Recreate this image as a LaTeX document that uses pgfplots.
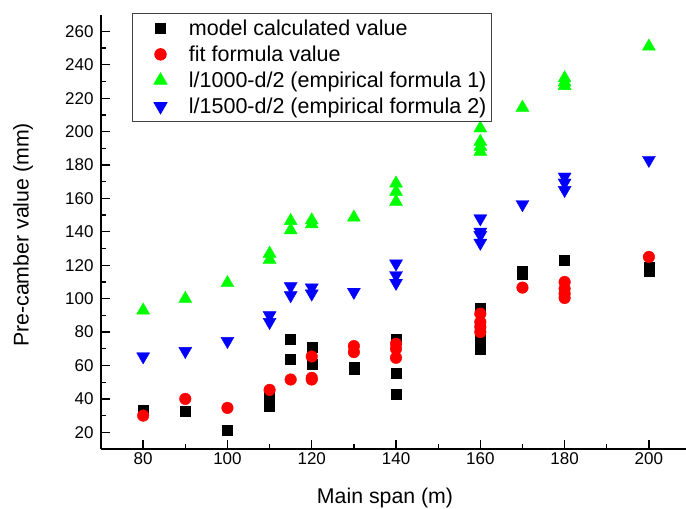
\documentclass[border=0pt]{standalone}
\usepackage{pgfplots}
\pgfplotsset{compat=1.18}
\usetikzlibrary{calc}
\usepackage{fontspec}
\setmainfont{Liberation Sans}
\begin{document}
\begin{tikzpicture}
\begin{axis}[
  scale only axis,
  width=585pt, height=434.3pt,
  xmin=70, xmax=208.8, ymin=10, ymax=270,
  axis x line*=bottom, axis y line*=left,
  axis line style={line width=1.5pt},
  xtick={80,100,...,200}, minor x tick num=1,
  ytick={20,40,...,260}, minor y tick num=1,
  tick align=inside,
  major tick length=9pt, minor tick length=5pt,
  every tick/.style={black, line width=1.3pt},
  /pgf/number format/assume math mode=true,
  tick label style={font=\fontsize{17}{20}\selectfont},
  yticklabel style={xshift=-4pt},
  xlabel={Main span (m)},
  ylabel={Pre-camber value (mm)},
  every axis x label/.style={at={(rel axis cs:0.4855,-0.112)}, anchor=center, font=\fontsize{21.3}{25}\selectfont},
  every axis y label/.style={at={(rel axis cs:-0.1333,0.493)}, rotate=90, anchor=center, font=\fontsize{21.3}{25}\selectfont},
  clip=false,
  mylegend/.style={legend image code/.code={\path (0pt,0pt) (51pt,0pt); \draw[##1] plot coordinates {(25pt,0pt)};}},
  legend style={at={(0.0525,1.004)}, anchor=north west, draw=black!75, line width=0.8pt,
    font=\fontsize{21.5}{25.6}\selectfont, row sep=4.9pt, inner xsep=3pt, inner ysep=4.5pt},
  legend cell align=left,
]
\coordinate (bl) at (rel axis cs:0,0);
\coordinate (tr) at (rel axis cs:1,1);
\addplot[only marks, mylegend, mark=square*, mark size=5pt, black] coordinates {
(80,33) (90,32.6) (100,21) (110,35.4) (110,42) (115,75.6) (115,64) (120,71) (120,61)
(130,59) (130,57.6) (140,76) (140,55.4) (140,43) (160,94) (160,76) (160,73) (160,70)
(170,116.5) (170,114.5) (180,123) (200,119) (200,116.5)};
\addlegendentry{model calculated value}
\addplot[only marks, mylegend, mark=*, mark size=5.8pt, red, mark options={draw=red, fill=red}] coordinates {
(80,30) (90,40) (100,34.6) (110,45.4) (115,51.6) (120,65.4) (120,52.6) (120,51.6)
(130,71.6) (130,68) (140,73) (140,70) (140,64.6) (160,91) (160,86) (160,83) (160,80)
(170,106.6) (180,110) (180,106) (180,103) (180,100.4) (200,125)};
\addlegendentry{fit formula value}
\addplot[only marks, mylegend, mark=triangle*, mark size=7.5pt, color={rgb,255:red,0;green,255;blue,0}] coordinates {
(80,93) (90,100) (100,109.4) (110,127) (110,123.4) (115,146.6) (115,141) (120,147) (120,144.6)
(130,148.6) (140,169) (140,164) (140,158) (160,202) (160,194) (160,191) (160,188)
(170,214.4) (180,232) (180,229.5) (180,227.4) (200,251)};
\addlegendentry{l/1000-d/2 (empirical formula 1)}
\addplot[only marks, mylegend, mark=triangle*, mark size=7.5pt, blue, mark options={rotate=180}] coordinates {
(80,65.4) (90,68.6) (100,74.6) (110,90) (110,86) (115,107.4) (115,102) (120,106.6) (120,103)
(130,104) (140,121) (140,114) (140,109.4) (160,148) (160,140) (160,138) (160,133.4)
(170,156.5) (180,173) (180,169.4) (180,165) (200,183)};
\addlegendentry{l/1500-d/2 (empirical formula 2)}
\end{axis}
\pgfresetboundingbox
\path ($(bl)+(-101pt,-60pt)$) rectangle ($(tr)+(0pt,14.7pt)$);
\end{tikzpicture}
\end{document}
